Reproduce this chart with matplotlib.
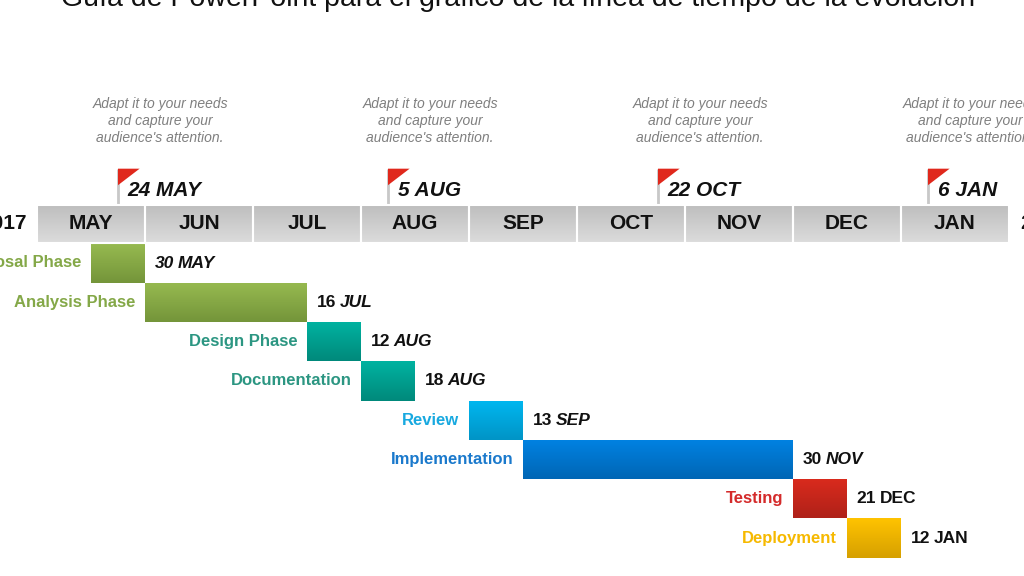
import matplotlib.pyplot as plt
from matplotlib.colors import LinearSegmentedColormap
from matplotlib.patches import Rectangle, Polygon
import numpy as np

plt.rcParams['font.family'] = ['Liberation Sans', 'DejaVu Sans']

title = "Guía de PowerPoint para el gráfico de la línea de tiempo de la evolución"
months = ["MAY", "JUN", "JUL", "AUG", "SEP", "OCT", "NOV", "DEC", "JAN"]
years = ["2017", "2018"]

phases = ["Proposal Phase", "Analysis Phase", "Design Phase", "Documentation",
          "Review", "Implementation", "Testing", "Deployment"]
# months counted from the start of MAY 2017
starts = [0.5, 1.0, 2.5, 3.0, 4.0, 4.5, 7.0, 7.5]
ends = [1.0, 2.5, 3.0, 3.5, 4.5, 7.0, 7.5, 8.0]
end_days = ["30", "16", "12", "18", "13", "30", "21", "12"]
end_months = ["MAY", "JUL", "AUG", "AUG", "SEP", "NOV", "DEC", "JAN"]
day_italic = [True, False, False, False, False, False, False, False]
month_italic = [True, True, True, True, True, True, False, False]

milestones = ["24 MAY", "5 AUG", "22 OCT", "6 JAN"]
milestone_pos = [0.75, 3.25, 5.75, 8.25]
note = "Adapt it to your needs\nand capture your\naudience's attention."

# colours: top of gradient, bottom of gradient, label colour
bar_top = ["#97BA50", "#97BA50", "#00B3A1", "#00B3A1", "#00B7F0", "#0082E2", "#DA2B1D", "#FFC300"]
bar_bot = ["#74953A", "#74953A", "#00897B", "#00897B", "#0094C6", "#0066B5", "#AF2119", "#D6A000"]
label_col = ["#84A848", "#84A848", "#2C9682", "#2C9682", "#18A9E0", "#1A79CC", "#D42B2B", "#F6B900"]


def gradient_rect(ax, left, width, y, height, top, bottom, edge='none', lw=0):
    rect = Rectangle((left, y - height / 2), width, height, facecolor=bottom,
                     edgecolor='none', zorder=2)
    ax.add_patch(rect)
    cmap = LinearSegmentedColormap.from_list('g', [top, bottom])
    grad = np.linspace(0, 1, 64).reshape(-1, 1)
    im = ax.imshow(grad, cmap=cmap, aspect='auto', zorder=2.1,
                   extent=(left, left + width, y + height / 2, y - height / 2))
    im.set_clip_path(rect)
    if lw:
        ax.add_patch(Rectangle((left, y - height / 2), width, height, facecolor='none',
                               edgecolor=edge, lw=lw, zorder=2.2))


fig = plt.figure(figsize=(10.24, 5.76), dpi=100)
ax = fig.add_axes([0, 0, 1, 1])
ax.set_xlim(-37 / 108, 987 / 108)
ax.set_ylim((576 - 263) / 39.3, -263 / 39.3)
ax.axis('off')

ax.text(4.45, -6.53, title, ha='center', va='baseline', fontsize=20.5, color='#111111')

# month header
for m, name in enumerate(months):
    gradient_rect(ax, m, 1, -1.0, 0.96, "#BEBEBE", "#DCDCDC", edge='white', lw=1.5)
    ax.text(m + 0.5, -1.0, name, ha='center', va='center', fontsize=15,
            fontweight='bold', color='#111111', zorder=3)
ax.text(-0.095, -1.0, years[0], ha='right', va='center', fontsize=15,
        fontweight='bold', color='#111111')
ax.text(len(months) + 0.1, -1.0, years[1], ha='left', va='center', fontsize=15,
        fontweight='bold', color='#111111')

# milestone flags
for label, pos in zip(milestones, milestone_pos):
    ax.plot([pos, pos], [-1.48, -2.4], color='#C8C8C8', lw=2, zorder=2,
            solid_capstyle='butt')
    ax.add_patch(Polygon([(pos, -2.4), (pos + 0.2, -2.4), (pos, -1.98)],
                         closed=True, facecolor='#E0281C', edgecolor='none', zorder=3))
    ax.annotate(label, (pos, -1.85), xytext=(7, 0), textcoords='offset points',
                ha='left', va='center', fontsize=15, fontweight='bold',
                fontstyle='italic', color='#111111')
    ax.text(pos + 0.39, -3.61, note, ha='center', va='center', fontsize=10,
            fontstyle='italic', color='#7F7F7F', linespacing=1.25)

# phase bars
for i, name in enumerate(phases):
    gradient_rect(ax, starts[i], ends[i] - starts[i], i, 1.0, bar_top[i], bar_bot[i])
    ax.annotate(name, (starts[i], i), xytext=(-7, 0), textcoords='offset points',
                ha='right', va='center', fontsize=12, fontweight='bold',
                color=label_col[i])
    t = ax.annotate(end_days[i], (ends[i], i), xytext=(7, 0), textcoords='offset points',
                    ha='left', va='center', fontsize=12.5, fontweight='bold',
                    fontstyle='italic' if day_italic[i] else 'normal', color='#111111')
    ax.annotate(end_months[i], xy=(1, 0), xycoords=t, xytext=(2.5, 0),
                textcoords='offset points', ha='left', va='bottom', fontsize=12.5,
                fontweight='bold', fontstyle='italic' if month_italic[i] else 'normal',
                color='#111111')

fig.savefig('out.png', dpi=100)
